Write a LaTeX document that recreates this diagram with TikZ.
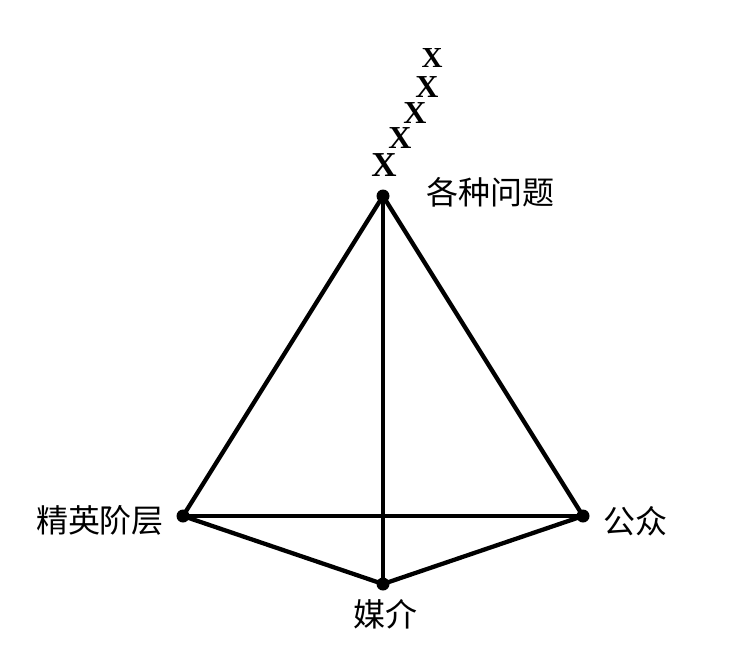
\documentclass[tikz,border=0pt]{standalone}
\usepackage{fontspec}
\newfontfamily\cjk{Noto Sans CJK SC}
\setmainfont{Liberation Serif}
\begin{document}
\begin{tikzpicture}[x=1pt,y=-1pt,
  vdot/.style={circle,fill=black,inner sep=0pt,minimum size=13pt},
  edge/.style={line width=4.3pt,line cap=round},
  lbl/.style={font=\cjk\fontsize{32}{38}\selectfont,inner sep=0pt},
  xmark/.style={font=\bfseries\fontsize{#1}{#1}\selectfont,inner sep=0pt}]
\useasboundingbox (0,0) rectangle (732,662);
\node[vdot] (top) at (383,196) {};
\node[vdot] (left) at (183,516) {};
\node[vdot] (right) at (583,516) {};
\node[vdot] (bottom) at (383,584) {};
\draw[edge] (top.center) -- (left.center);
\draw[edge] (top.center) -- (right.center);
\draw[edge] (top.center) -- (bottom.center);
\draw[edge] (left.center) -- (right.center);
\draw[edge] (left.center) -- (bottom.center);
\draw[edge] (right.center) -- (bottom.center);
\node[lbl] (issues) at (490,192) {各种问题};
\node[lbl] (elite) at (100,520) {精英阶层};
\node[lbl] (public) at (635,521) {公众};
\node[lbl] (media) at (385,614) {媒介};
\node[xmark=35] (x1) at (384,165) {X};
\node[xmark=32] (x2) at (400,138) {X};
\node[xmark=32] (x3) at (415,113) {X};
\node[xmark=32] (x4) at (427,87) {X};
\node[xmark=29] (x5) at (432,58) {X};
\end{tikzpicture}
\end{document}
